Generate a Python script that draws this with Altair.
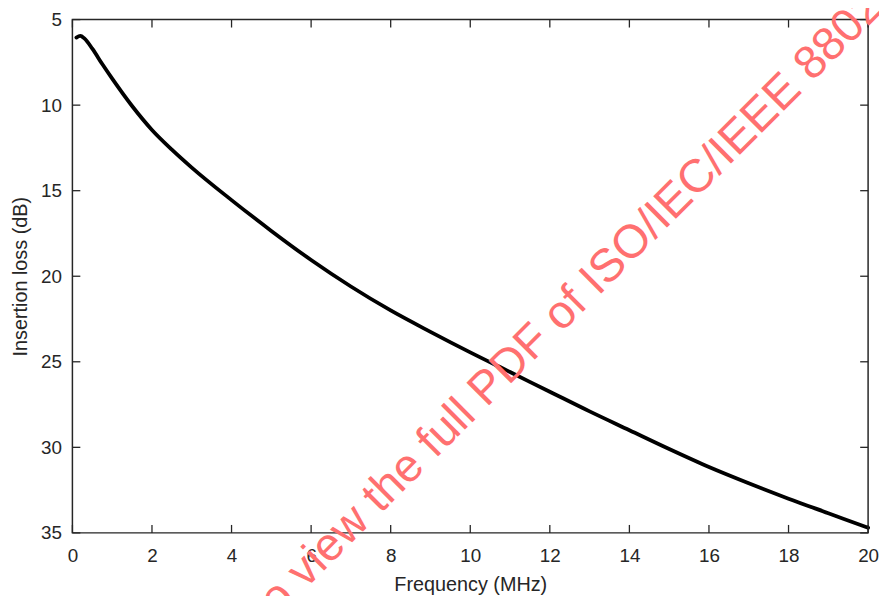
import altair as alt
import pandas as pd

# Data
freq_mhz = [0.1, 0.2, 0.3, 0.5, 0.75, 1.0, 1.5, 2.0, 2.5, 3.0, 4.0, 5.0, 6.0, 7.0, 8.0, 9.0,
            10.0, 11.0, 12.0, 13.0, 14.0, 15.0, 16.0, 17.0, 18.0, 19.0, 20.0]
insertion_loss_db = [6.05, 5.95, 6.1, 6.7, 7.6, 8.45, 10.05, 11.45, 12.6, 13.65, 15.55, 17.35,
                     19.05, 20.6, 22.0, 23.25, 24.45, 25.6, 26.75, 27.9, 29.0, 30.1, 31.15,
                     32.1, 33.0, 33.85, 34.7]
x_ticks = [0, 2, 4, 6, 8, 10, 12, 14, 16, 18, 20]
y_ticks = [5, 10, 15, 20, 25, 30, 35]
watermark = ["Click to view the full PDF of ISO/IEC/IEEE 8802-3"]

W, H = 803, 518
TICK = 8
FONT = "Liberation Sans"
INK = "#262626"

curve = pd.DataFrame({"f": freq_mhz, "il": insertion_loss_db})
xt = pd.DataFrame({"f": x_ticks})
yt = pd.DataFrame({"il": y_ticks})
wm = pd.DataFrame({"t": watermark})

xscale = alt.Scale(domain=[0, 20], nice=False, zero=False)
yscale = alt.Scale(domain=[5, 35], nice=False, zero=False, reverse=True)

xaxis = alt.Axis(values=x_ticks, title="Frequency (MHz)", titlePadding=9, labelPadding=14,
                 labelFlush=False)
yaxis = alt.Axis(values=y_ticks, title="Insertion loss (dB)", titlePadding=10, labelPadding=11,
                 labelFlush=False)

line = alt.Chart(curve).mark_line(
    color="black", strokeWidth=3.8, interpolate="monotone", strokeCap="round"
).encode(
    x=alt.X("f:Q", scale=xscale, axis=xaxis),
    y=alt.Y("il:Q", scale=yscale, axis=yaxis),
)

bottom_ticks = alt.Chart(xt).mark_rule(color=INK, strokeWidth=1.3).encode(
    x=alt.X("f:Q", scale=xscale, axis=xaxis), y=alt.value(H), y2=alt.value(H - TICK))
top_ticks = alt.Chart(xt).mark_rule(color=INK, strokeWidth=1.3).encode(
    x=alt.X("f:Q", scale=xscale, axis=xaxis), y=alt.value(0), y2=alt.value(TICK))
left_ticks = alt.Chart(yt).mark_rule(color=INK, strokeWidth=1.3).encode(
    y=alt.Y("il:Q", scale=yscale, axis=yaxis), x=alt.value(0), x2=alt.value(TICK))
right_ticks = alt.Chart(yt).mark_rule(color=INK, strokeWidth=1.3).encode(
    y=alt.Y("il:Q", scale=yscale, axis=yaxis), x=alt.value(W), x2=alt.value(W - TICK))

mark_wm = alt.Chart(wm).mark_text(
    font="Liberation Sans", fontSize=47, angle=315, align="left", baseline="alphabetic",
    color="#ff7070"
).encode(text="t:N", x=alt.value(117), y=alt.value(693))

chart = alt.layer(
    line, bottom_ticks, top_ticks, left_ticks, right_ticks, mark_wm
).properties(
    width=W, height=H,
    autosize=alt.AutoSizeParams(type="none"),
    padding={"left": 65, "top": 9, "right": 11, "bottom": 61},
).configure_view(
    stroke=INK, strokeWidth=1.5
).configure_axis(
    domain=False, ticks=False, grid=False,
    labelFont=FONT, labelFontSize=19, labelColor=INK,
    titleFont=FONT, titleFontSize=20, titleColor=INK, titleFontWeight="normal",
)

chart.save("out.html", embed_options={"renderer": "svg", "actions": False})
